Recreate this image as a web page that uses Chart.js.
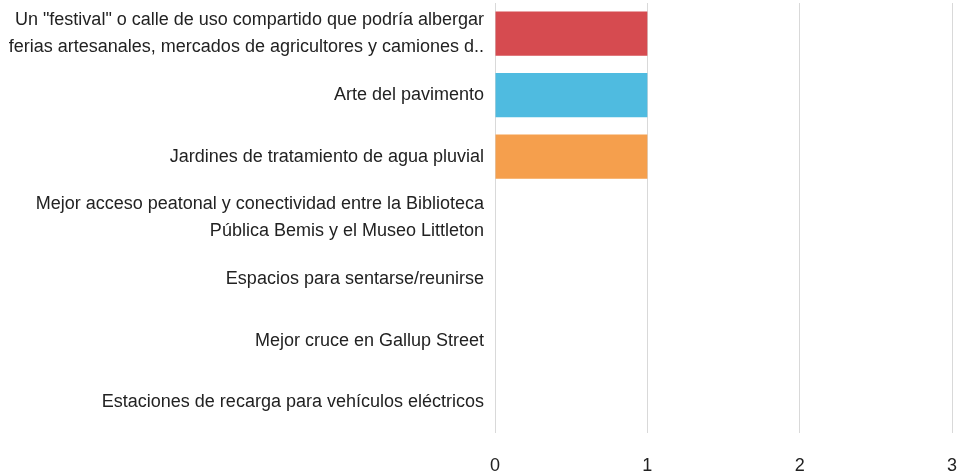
<!DOCTYPE html>
<html><head><meta charset="utf-8">
<script src="https://cdn.jsdelivr.net/npm/chart.js@4"></script>
<style>html,body{margin:0;padding:0;background:#fff}#wrap{width:960px;height:476px}</style>
</head><body><div id="wrap"><canvas id="c"></canvas></div>
<script>
const categories = [
  ['Un "festival" o calle de uso compartido que podría albergar','ferias artesanales, mercados de agricultores y camiones d..'],
  'Arte del pavimento',
  'Jardines de tratamiento de agua pluvial',
  ['Mejor acceso peatonal y conectividad entre la Biblioteca','Pública Bemis y el Museo Littleton'],
  'Espacios para sentarse/reunirse',
  'Mejor cruce en Gallup Street',
  'Estaciones de recarga para vehículos eléctricos'
];
const values = [1, 1, 1, 0, 0, 0, 0];
const barColors = ['#d64b50', '#4fbbe0', '#f59f4d', '#8bc34a', '#9575cd', '#f06292', '#4db6ac'];
const xTicks = [0, 1, 2, 3];

const FONT = '"Liberation Sans", Arial, sans-serif';
new Chart(document.getElementById('c'), {
  type: 'bar',
  data: { labels: categories, datasets: [{ data: values, backgroundColor: barColors, borderWidth: 0, barPercentage: 0.8, categoryPercentage: 0.9 }] },
  options: {
    indexAxis: 'y', responsive: true, maintainAspectRatio: false, animation: false,
    layout: { padding: { top: 3, right: 8, bottom: 0, left: 0 } },
    plugins: { legend: { display: false }, tooltip: { enabled: false } },
    scales: {
      x: {
        min: 0, max: 3,
        afterBuildTicks: ax => { ax.ticks = xTicks.map(v => ({ value: v })); },
        afterFit: ax => { ax.paddingLeft = 0; ax.paddingRight = 0; ax.height = 43; },
        grid: { color: '#d9d9d9', lineWidth: 1, drawTicks: false },
        border: { display: false },
        ticks: { color: '#222', padding: 22, font: { family: FONT, size: 18 } }
      },
      y: {
        afterFit: ax => { ax.paddingTop = 0; ax.paddingBottom = 0; ax.width = 495; },
        grid: { display: false, drawTicks: false },
        border: { display: false },
        ticks: { color: '#222', padding: 11, font: { family: FONT, size: 18, lineHeight: 1.5 } }
      }
    }
  }
});
</script></body></html>
